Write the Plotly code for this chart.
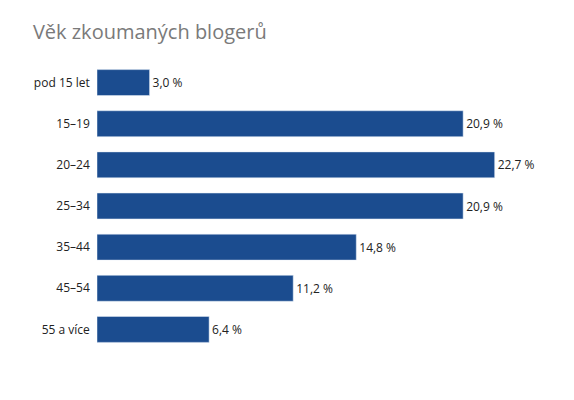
import plotly.graph_objects as go

categories = ["pod 15 let", "15–19", "20–24", "25–34", "35–44", "45–54", "55 a více"]
values = [3.0, 20.9, 22.7, 20.9, 14.8, 11.2, 6.4]
labels = [f"{v:.1f}".replace(".", ",") + " %" for v in values]

fig = go.Figure(go.Bar(
    y=categories, x=values, orientation="h",
    marker_color="#1b4c8f", text=labels, textposition="outside",
    textfont=dict(size=12, color="#222"), cliponaxis=False,
))
fig.update_layout(
    width=566, height=392, plot_bgcolor="white", paper_bgcolor="white",
    margin=dict(l=89, r=4, t=54, b=50, autoexpand=False),
    bargap=0.37, showlegend=False,
    font=dict(family="Open Sans, Liberation Sans, sans-serif", size=12, color="#222"),
    title=dict(text="Věk zkoumaných blogerů", x=0.044, xanchor="left", y=0.939, yanchor="middle",
               font=dict(size=20, color="#7a7a7a")),
    xaxis=dict(range=[0, 27], visible=False),
    yaxis=dict(autorange="reversed", showline=False, ticks="", ticklen=0, ticksuffix="  ",
               tickfont=dict(size=12)),
)
fig.write_html("out.html")
